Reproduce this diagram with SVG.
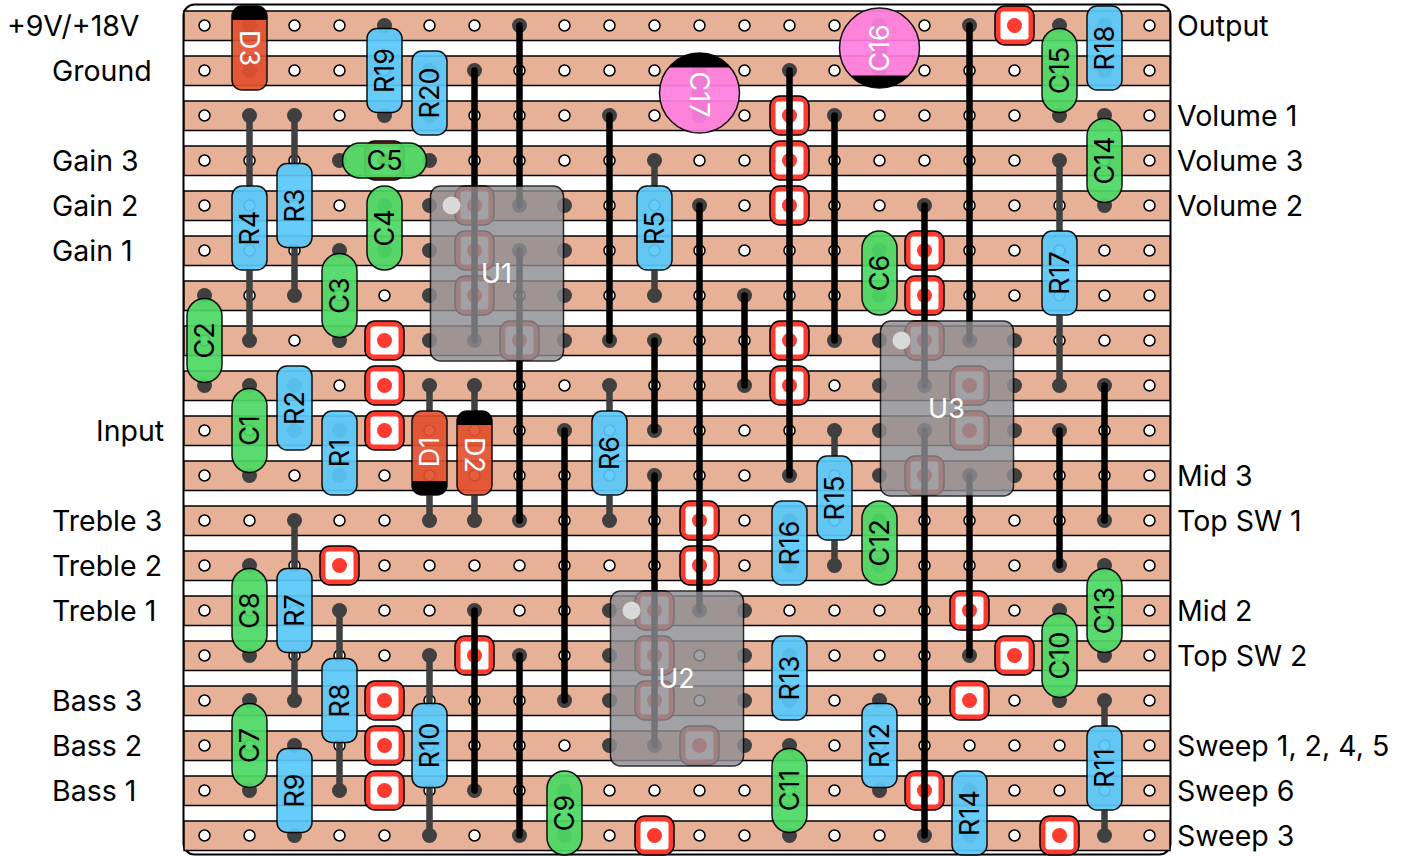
<svg xmlns="http://www.w3.org/2000/svg" width="1409" height="856" viewBox="0 0 1409 856">
<style>
text{font-family:Inter,"Liberation Sans",sans-serif;font-size:27px;fill:#000}
.lb{font-size:28.5px}
.t{text-anchor:middle;dominant-baseline:central}
.w{fill:#fff}
.s{fill:#e6b197;stroke:#000;stroke-width:1.5}
.j{stroke:#000;stroke-width:6.5;stroke-linecap:round;fill:none}
.l{stroke:#404040;stroke-width:6.5;fill:none}
.p{fill:#404040}
.R{fill:#5ac8fa;stroke:#000;stroke-width:1.5;opacity:.92}
.C{fill:#4cd964;stroke:#000;stroke-width:1.5;opacity:.92}
.D{fill:#e2512f;stroke:#000;stroke-width:1.5;opacity:.92}
.E{fill:#ff7fe0;stroke:#000;stroke-width:1.5;opacity:.92}
.IC{fill:#8e8e93;stroke:#000;stroke-width:1.5;opacity:.82}
.ICd{fill:#d9d9d9}
</style>
<defs>
<pattern id="holes" patternUnits="userSpaceOnUse" x="182" y="3" width="45" height="45"><circle cx="22.5" cy="22.5" r="5.5" fill="#fff" stroke="#000" stroke-width="1.5"/></pattern>
<g id="term"><rect x="-19.5" y="-19.5" width="39" height="39" rx="10" fill="#ff3b30" stroke="#000" stroke-width="1.5"/><rect x="-14" y="-14" width="28" height="28" rx="3" fill="#fff"/><circle r="7.5" fill="#ff3b30"/></g>
<circle id="pad" r="7.5" fill="#404040"/>
</defs>
<g id="board">
<rect x="183.5" y="4.5" width="987" height="850" rx="11" fill="#fff" stroke="#000" stroke-width="2"/>
<g id="strips">
<rect class="s" x="184" y="11" width="986" height="29.5"/><rect class="s" x="184" y="56" width="986" height="29.5"/><rect class="s" x="184" y="101" width="986" height="29.5"/><rect class="s" x="184" y="146" width="986" height="29.5"/><rect class="s" x="184" y="191" width="986" height="29.5"/><rect class="s" x="184" y="236" width="986" height="29.5"/><rect class="s" x="184" y="281" width="986" height="29.5"/><rect class="s" x="184" y="326" width="986" height="29.5"/><rect class="s" x="184" y="371" width="986" height="29.5"/><rect class="s" x="184" y="416" width="986" height="29.5"/><rect class="s" x="184" y="461" width="986" height="29.5"/><rect class="s" x="184" y="506" width="986" height="29.5"/><rect class="s" x="184" y="551" width="986" height="29.5"/><rect class="s" x="184" y="596" width="986" height="29.5"/><rect class="s" x="184" y="641" width="986" height="29.5"/><rect class="s" x="184" y="686" width="986" height="29.5"/><rect class="s" x="184" y="731" width="986" height="29.5"/><rect class="s" x="184" y="776" width="986" height="29.5"/><rect class="s" x="184" y="821" width="986" height="29.5"/>
</g>
<rect x="182" y="3" width="990" height="855" fill="url(#holes)"/>
</g>
<g transform="translate(-.5 .5)">
<g id="terminals">
<use href="#term" x="1015" y="25"/><use href="#term" x="790" y="115"/><use href="#term" x="790" y="160"/><use href="#term" x="790" y="205"/><use href="#term" x="925" y="250"/><use href="#term" x="925" y="295"/><use href="#term" x="385" y="340"/><use href="#term" x="385" y="385"/><use href="#term" x="385" y="430"/><use href="#term" x="790" y="340"/><use href="#term" x="790" y="385"/><use href="#term" x="700" y="520"/><use href="#term" x="700" y="565"/><use href="#term" x="340" y="565"/><use href="#term" x="970" y="610"/><use href="#term" x="475" y="655"/><use href="#term" x="1015" y="655"/><use href="#term" x="385" y="700"/><use href="#term" x="970" y="700"/><use href="#term" x="385" y="745"/><use href="#term" x="385" y="790"/><use href="#term" x="925" y="790"/><use href="#term" x="655" y="835"/><use href="#term" x="1060" y="835"/><use href="#term" x="385" y="160"/>
<use href="#term" x="475" y="205"/><use href="#term" x="475" y="250"/><use href="#term" x="475" y="295"/><use href="#term" x="520" y="340"/>
<use href="#term" x="655" y="610"/><use href="#term" x="655" y="655"/><use href="#term" x="655" y="700"/><use href="#term" x="700" y="745"/>
<use href="#term" x="925" y="340"/><use href="#term" x="970" y="385"/><use href="#term" x="970" y="430"/><use href="#term" x="925" y="475"/>
</g>
<g id="connectors">
<g id="pads">
<use href="#pad" x="250" y="25"/><use href="#pad" x="250" y="70"/><use href="#pad" x="385" y="25"/><use href="#pad" x="385" y="115"/><use href="#pad" x="430" y="70"/><use href="#pad" x="430" y="115"/><use href="#pad" x="1105" y="25"/><use href="#pad" x="1105" y="70"/><use href="#pad" x="1060" y="25"/><use href="#pad" x="1060" y="115"/>
<use href="#pad" x="250" y="115"/><use href="#pad" x="250" y="340"/><use href="#pad" x="295" y="115"/><use href="#pad" x="295" y="295"/><use href="#pad" x="340" y="160"/><use href="#pad" x="430" y="160"/><use href="#pad" x="385" y="205"/><use href="#pad" x="385" y="250"/><use href="#pad" x="340" y="250"/><use href="#pad" x="340" y="340"/><use href="#pad" x="205" y="295"/><use href="#pad" x="205" y="385"/><use href="#pad" x="295" y="385"/><use href="#pad" x="295" y="430"/><use href="#pad" x="250" y="385"/><use href="#pad" x="250" y="475"/><use href="#pad" x="340" y="430"/><use href="#pad" x="340" y="475"/>
<use href="#pad" x="430" y="385"/><use href="#pad" x="430" y="520"/><use href="#pad" x="475" y="385"/><use href="#pad" x="475" y="520"/><use href="#pad" x="610" y="385"/><use href="#pad" x="610" y="520"/><use href="#pad" x="655" y="160"/><use href="#pad" x="655" y="295"/>
<use href="#pad" x="880" y="250"/><use href="#pad" x="880" y="295"/><use href="#pad" x="880" y="520"/><use href="#pad" x="880" y="565"/><use href="#pad" x="790" y="520"/><use href="#pad" x="790" y="565"/><use href="#pad" x="835" y="430"/><use href="#pad" x="835" y="565"/><use href="#pad" x="1060" y="160"/><use href="#pad" x="1060" y="385"/><use href="#pad" x="1105" y="115"/><use href="#pad" x="1105" y="205"/><use href="#pad" x="1105" y="565"/><use href="#pad" x="1105" y="655"/><use href="#pad" x="1060" y="610"/><use href="#pad" x="1060" y="700"/><use href="#pad" x="790" y="655"/><use href="#pad" x="790" y="700"/><use href="#pad" x="790" y="745"/><use href="#pad" x="790" y="835"/><use href="#pad" x="880" y="700"/><use href="#pad" x="880" y="790"/><use href="#pad" x="970" y="790"/><use href="#pad" x="970" y="835"/><use href="#pad" x="1105" y="700"/><use href="#pad" x="1105" y="835"/><use href="#pad" x="565" y="790"/><use href="#pad" x="565" y="835"/><use href="#pad" x="430" y="655"/><use href="#pad" x="430" y="835"/><use href="#pad" x="295" y="745"/><use href="#pad" x="295" y="835"/><use href="#pad" x="340" y="610"/><use href="#pad" x="340" y="790"/><use href="#pad" x="250" y="700"/><use href="#pad" x="250" y="790"/><use href="#pad" x="250" y="565"/><use href="#pad" x="250" y="655"/><use href="#pad" x="295" y="520"/><use href="#pad" x="295" y="700"/>
<use href="#pad" x="700" y="70"/><use href="#pad" x="700" y="115"/><use href="#pad" x="880" y="25"/><use href="#pad" x="880" y="70"/>
<use href="#pad" x="430" y="205"/><use href="#pad" x="430" y="250"/><use href="#pad" x="430" y="295"/><use href="#pad" x="430" y="340"/><use href="#pad" x="565" y="205"/><use href="#pad" x="565" y="250"/><use href="#pad" x="565" y="295"/><use href="#pad" x="565" y="340"/>
<use href="#pad" x="610" y="610"/><use href="#pad" x="610" y="655"/><use href="#pad" x="610" y="700"/><use href="#pad" x="610" y="745"/><use href="#pad" x="745" y="610"/><use href="#pad" x="745" y="655"/><use href="#pad" x="745" y="700"/><use href="#pad" x="745" y="745"/>
<use href="#pad" x="880" y="340"/><use href="#pad" x="880" y="385"/><use href="#pad" x="880" y="430"/><use href="#pad" x="880" y="475"/><use href="#pad" x="1015" y="340"/><use href="#pad" x="1015" y="385"/><use href="#pad" x="1015" y="430"/><use href="#pad" x="1015" y="475"/>
<use href="#pad" x="475" y="70"/><use href="#pad" x="475" y="340"/><use href="#pad" x="520" y="25"/><use href="#pad" x="520" y="205"/><use href="#pad" x="520" y="250"/><use href="#pad" x="520" y="520"/><use href="#pad" x="610" y="115"/><use href="#pad" x="610" y="340"/><use href="#pad" x="655" y="340"/><use href="#pad" x="655" y="430"/><use href="#pad" x="655" y="475"/><use href="#pad" x="655" y="745"/><use href="#pad" x="700" y="205"/><use href="#pad" x="700" y="610"/><use href="#pad" x="745" y="295"/><use href="#pad" x="745" y="385"/><use href="#pad" x="790" y="70"/><use href="#pad" x="790" y="475"/><use href="#pad" x="835" y="115"/><use href="#pad" x="835" y="340"/><use href="#pad" x="925" y="205"/><use href="#pad" x="925" y="385"/><use href="#pad" x="925" y="430"/><use href="#pad" x="925" y="835"/><use href="#pad" x="970" y="25"/><use href="#pad" x="970" y="340"/><use href="#pad" x="970" y="475"/><use href="#pad" x="970" y="655"/><use href="#pad" x="1060" y="430"/><use href="#pad" x="1060" y="565"/><use href="#pad" x="1105" y="385"/><use href="#pad" x="1105" y="520"/><use href="#pad" x="565" y="430"/><use href="#pad" x="565" y="700"/><use href="#pad" x="475" y="610"/><use href="#pad" x="475" y="790"/><use href="#pad" x="520" y="655"/><use href="#pad" x="520" y="835"/>
</g>
<g id="legs">
<path class="l" d="M250 115V186M250 270V340M295 115V163M295 247V295M655 160V186M655 270V295M430 385V411M430 495V520M475 385V411M475 495V520M610 385V411M610 495V520M835 430V456M835 540V565M1060 160V231M1060 315V385M1105 700V726M1105 810V835M430 655V703M430 787V835M340 610V658M340 742V790M295 520V568M295 652V700"/>
<path d="M700 70V115M880 25V70" stroke="#404040" stroke-width="15" stroke-linecap="round" fill="none"/>
</g>
<g id="jumpers">
<path class="j" d="M475 70V340M520 25V205M520 250V520M610 115V340M655 340V430M655 475V745M700 205V610M745 295V385M790 70V475M835 115V340M925 205V385M925 430V835M970 25V340M970 475V655M1060 430V565M1105 385V520M565 430V700M475 610V790M520 655V835"/>
</g>
</g>
<g id="D3"><rect class="D" x="232.5" y="5.5" width="35" height="84" rx="10"/><path d="M232.5 19.5V15.5a10 10 0 0 1 10-10H257.5a10 10 0 0 1 10 10V19.5Z"/><text class="t w" transform="translate(250 47.5) rotate(90)">D3</text></g>
<g id="D1"><rect class="D" x="412.5" y="410.5" width="35" height="84" rx="10"/><path d="M412.5 480.5V484.5a10 10 0 0 0 10 10H437.5a10 10 0 0 0 10-10V480.5Z"/><text class="t w" transform="translate(430 451.5) rotate(-90)">D1</text></g>
<g id="D2"><rect class="D" x="457.5" y="410.5" width="35" height="84" rx="10"/><path d="M457.5 424.5V420.5a10 10 0 0 1 10-10H482.5a10 10 0 0 1 10 10V424.5Z"/><text class="t w" transform="translate(475 454.5) rotate(90)">D2</text></g>
<g id="C17"><circle class="E" cx="700" cy="92.5" r="40"/><path d="M669.2 67A40 40 0 0 1 730.8 67Z"/><text class="t w" transform="translate(700 94) rotate(90)">C17</text></g>
<g id="C16"><circle class="E" cx="880" cy="47.5" r="40"/><path d="M851 75A40 40 0 0 0 909 75Z"/><text class="t w" transform="translate(880 47.5) rotate(-90)">C16</text></g>
<g id="R19"><rect class="R" x="367.5" y="28" width="35" height="84" rx="10"/><text class="t" transform="translate(385 70) rotate(-90)">R19</text></g>
<g id="R20"><rect class="R" x="412.5" y="50.5" width="35" height="84" rx="10"/><text class="t" transform="translate(430 92.5) rotate(-90)">R20</text></g>
<g id="R18"><rect class="R" x="1087.5" y="5.5" width="35" height="84" rx="10"/><text class="t" transform="translate(1105 47.5) rotate(-90)">R18</text></g>
<g id="R4"><rect class="R" x="232.5" y="185.5" width="35" height="84" rx="10"/><text class="t" transform="translate(250 227.5) rotate(-90)">R4</text></g>
<g id="R3"><rect class="R" x="277.5" y="163" width="35" height="84" rx="10"/><text class="t" transform="translate(295 205) rotate(-90)">R3</text></g>
<g id="R2"><rect class="R" x="277.5" y="365.5" width="35" height="84" rx="10"/><text class="t" transform="translate(295 407.5) rotate(-90)">R2</text></g>
<g id="R1"><rect class="R" x="322.5" y="410.5" width="35" height="84" rx="10"/><text class="t" transform="translate(340 452.5) rotate(-90)">R1</text></g>
<g id="R6"><rect class="R" x="592.5" y="410.5" width="35" height="84" rx="10"/><text class="t" transform="translate(610 452.5) rotate(-90)">R6</text></g>
<g id="R5"><rect class="R" x="637.5" y="185.5" width="35" height="84" rx="10"/><text class="t" transform="translate(655 227.5) rotate(-90)">R5</text></g>
<g id="R16"><rect class="R" x="772.5" y="500.5" width="35" height="84" rx="10"/><text class="t" transform="translate(790 542.5) rotate(-90)">R16</text></g>
<g id="R15"><rect class="R" x="817.5" y="455.5" width="35" height="84" rx="10"/><text class="t" transform="translate(835 497.5) rotate(-90)">R15</text></g>
<g id="R17"><rect class="R" x="1042.5" y="230.5" width="35" height="84" rx="10"/><text class="t" transform="translate(1060 272.5) rotate(-90)">R17</text></g>
<g id="R13"><rect class="R" x="772.5" y="635.5" width="35" height="84" rx="10"/><text class="t" transform="translate(790 677.5) rotate(-90)">R13</text></g>
<g id="R12"><rect class="R" x="862.5" y="703" width="35" height="84" rx="10"/><text class="t" transform="translate(880 745) rotate(-90)">R12</text></g>
<g id="R14"><rect class="R" x="952.5" y="770.5" width="35" height="84" rx="10"/><text class="t" transform="translate(970 812.5) rotate(-90)">R14</text></g>
<g id="R11"><rect class="R" x="1087.5" y="725.5" width="35" height="84" rx="10"/><text class="t" transform="translate(1105 767.5) rotate(-90)">R11</text></g>
<g id="R10"><rect class="R" x="412.5" y="703" width="35" height="84" rx="10"/><text class="t" transform="translate(430 745) rotate(-90)">R10</text></g>
<g id="R9"><rect class="R" x="277.5" y="748" width="35" height="84" rx="10"/><text class="t" transform="translate(295 790) rotate(-90)">R9</text></g>
<g id="R8"><rect class="R" x="322.5" y="658" width="35" height="84" rx="10"/><text class="t" transform="translate(340 700) rotate(-90)">R8</text></g>
<g id="R7"><rect class="R" x="277.5" y="568" width="35" height="84" rx="10"/><text class="t" transform="translate(295 610) rotate(-90)">R7</text></g>
<g id="C15"><rect class="C" x="1042.5" y="28" width="35" height="84" rx="17.5"/><text class="t" transform="translate(1060 70) rotate(-90)">C15</text></g>
<g id="C5"><rect class="C" x="343" y="142.5" width="84" height="35" rx="17.5"/><text class="t" x="385" y="160">C5</text></g>
<g id="C4"><rect class="C" x="367.5" y="185.5" width="35" height="84" rx="17.5"/><text class="t" transform="translate(385 227.5) rotate(-90)">C4</text></g>
<g id="C3"><rect class="C" x="322.5" y="253" width="35" height="84" rx="17.5"/><text class="t" transform="translate(340 295) rotate(-90)">C3</text></g>
<g id="C2"><rect class="C" x="187.5" y="298" width="35" height="84" rx="17.5"/><text class="t" transform="translate(205 340) rotate(-90)">C2</text></g>
<g id="C1"><rect class="C" x="232.5" y="388" width="35" height="84" rx="17.5"/><text class="t" transform="translate(250 430) rotate(-90)">C1</text></g>
<g id="C6"><rect class="C" x="862.5" y="230.5" width="35" height="84" rx="17.5"/><text class="t" transform="translate(880 272.5) rotate(-90)">C6</text></g>
<g id="C12"><rect class="C" x="862.5" y="500.5" width="35" height="84" rx="17.5"/><text class="t" transform="translate(880 542.5) rotate(-90)">C12</text></g>
<g id="C14"><rect class="C" x="1087.5" y="118" width="35" height="84" rx="17.5"/><text class="t" transform="translate(1105 160) rotate(-90)">C14</text></g>
<g id="C13"><rect class="C" x="1087.5" y="568" width="35" height="84" rx="17.5"/><text class="t" transform="translate(1105 610) rotate(-90)">C13</text></g>
<g id="C10"><rect class="C" x="1042.5" y="613" width="35" height="84" rx="17.5"/><text class="t" transform="translate(1060 655) rotate(-90)">C10</text></g>
<g id="C11"><rect class="C" x="772.5" y="748" width="35" height="84" rx="17.5"/><text class="t" transform="translate(790 790) rotate(-90)">C11</text></g>
<g id="C9"><rect class="C" x="547.5" y="770.5" width="35" height="84" rx="17.5"/><text class="t" transform="translate(565 812.5) rotate(-90)">C9</text></g>
<g id="C7"><rect class="C" x="232.5" y="703" width="35" height="84" rx="17.5"/><text class="t" transform="translate(250 745) rotate(-90)">C7</text></g>
<g id="C8"><rect class="C" x="232.5" y="568" width="35" height="84" rx="17.5"/><text class="t" transform="translate(250 610) rotate(-90)">C8</text></g>
<g id="U1"><rect class="IC" x="431" y="185.5" width="133" height="175" rx="10"/><circle class="ICd" cx="452" cy="205" r="9"/><text class="t w" x="497" y="273">U1</text></g>
<g id="U2"><rect class="IC" x="611" y="590.5" width="133" height="175" rx="10"/><circle class="ICd" cx="632" cy="610" r="9"/><text class="t w" x="677" y="678">U2</text></g>
<g id="U3"><rect class="IC" x="881" y="320.5" width="133" height="175" rx="10"/><circle class="ICd" cx="902" cy="340" r="9"/><text class="t w" x="947" y="408">U3</text></g>
</g>
<g id="labels">
<text class="lb" x="7" y="36">+9V/+18V</text><text class="lb" x="52" y="81">Ground</text><text class="lb" x="52" y="171">Gain 3</text><text class="lb" x="52" y="216">Gain 2</text><text class="lb" x="52" y="261">Gain 1</text><text class="lb" x="96" y="441">Input</text><text class="lb" x="52" y="531">Treble 3</text><text class="lb" x="52" y="576">Treble 2</text><text class="lb" x="52" y="621">Treble 1</text><text class="lb" x="52" y="711">Bass 3</text><text class="lb" x="52" y="756">Bass 2</text><text class="lb" x="52" y="801">Bass 1</text>
<text class="lb" x="1177" y="36">Output</text><text class="lb" x="1177" y="126">Volume 1</text><text class="lb" x="1177" y="171">Volume 3</text><text class="lb" x="1177" y="216">Volume 2</text><text class="lb" x="1177" y="486">Mid 3</text><text class="lb" x="1177" y="531">Top SW 1</text><text class="lb" x="1177" y="621">Mid 2</text><text class="lb" x="1177" y="666">Top SW 2</text><text class="lb" x="1177" y="756">Sweep 1, 2, 4, 5</text><text class="lb" x="1177" y="801">Sweep 6</text><text class="lb" x="1177" y="846">Sweep 3</text>
</g>
</svg>
